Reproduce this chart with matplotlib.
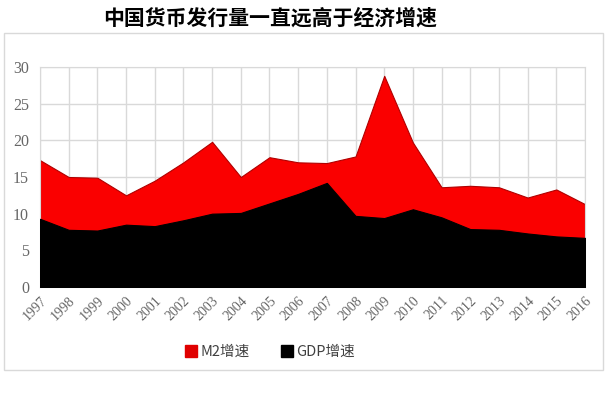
import numpy as np
import matplotlib.pyplot as plt
from matplotlib.patches import Rectangle, Patch

plt.rcParams['font.family'] = ['Noto Sans CJK SC', 'DejaVu Sans']

years = [1997, 1998, 1999, 2000, 2001, 2002, 2003, 2004, 2005, 2006,
         2007, 2008, 2009, 2010, 2011, 2012, 2013, 2014, 2015, 2016]
m2 = [17.3, 15.0, 14.9, 12.5, 14.5, 17.0, 19.8, 15.0, 17.7, 17.0,
      16.9, 17.8, 28.8, 19.7, 13.6, 13.8, 13.6, 12.2, 13.3, 11.3]
gdp = [9.3, 7.8, 7.7, 8.5, 8.3, 9.1, 10.0, 10.1, 11.4, 12.7,
       14.2, 9.7, 9.4, 10.6, 9.5, 7.9, 7.8, 7.3, 6.9, 6.7]
yticks = [0, 5, 10, 15, 20, 25, 30]

fig = plt.figure(figsize=(6.07, 3.97), dpi=100)
fig.patch.set_facecolor('white')

# outer frame of the chart
fig.patches.append(Rectangle((4 / 607, 1 - 370 / 397), 599 / 607, 337 / 397,
                             transform=fig.transFigure, fill=False,
                             edgecolor='#d9d9d9', linewidth=1))

ax = fig.add_axes([40 / 607, 1 - 287 / 397, 545 / 607, 220 / 397])

x = np.arange(len(years))
ax.fill_between(x, 0, m2, color='#fa0000', edgecolor='#b00000', linewidth=0.8, zorder=2)
ax.fill_between(x, 0, gdp, color='#000000', edgecolor='#000000', linewidth=0.8, zorder=3)

ax.set_xlim(0, len(years) - 1)
ax.set_ylim(0, 30)
ax.set_yticks(yticks, [str(v) for v in yticks], fontfamily='Liberation Serif',
              fontsize=11.5, color='#666666')
ax.set_xticks(x, [str(y) for y in years], rotation=45, ha='right',
              rotation_mode='anchor', fontfamily='Liberation Serif',
              fontsize=10, color='#666666')
ax.tick_params(axis='y', length=0, pad=8)
ax.tick_params(axis='x', length=0, pad=5)

ax.grid(True, color='#d9d9d9', linewidth=1)
ax.set_axisbelow(True)
for s in ax.spines.values():
    s.set_color('#d9d9d9')

fig.text(0.445, 0.955, '中国货币发行量一直远高于经济增速', fontsize=15,
         fontweight='bold', ha='center', va='center', color='black')

handles = [Patch(facecolor='#e00000', edgecolor='#e00000', label='M2增速'),
           Patch(facecolor='black', edgecolor='black', label='GDP增速')]
leg = fig.legend(handles=handles, loc='center', bbox_to_anchor=(0.445, 1 - 352 / 397),
                 ncol=2, frameon=False, fontsize=10.5, handlelength=0.8,
                 handleheight=0.8, handletextpad=0.2, columnspacing=2.2)
for t in leg.get_texts():
    t.set_color('#404040')

plt.savefig('out.png', dpi=100)
